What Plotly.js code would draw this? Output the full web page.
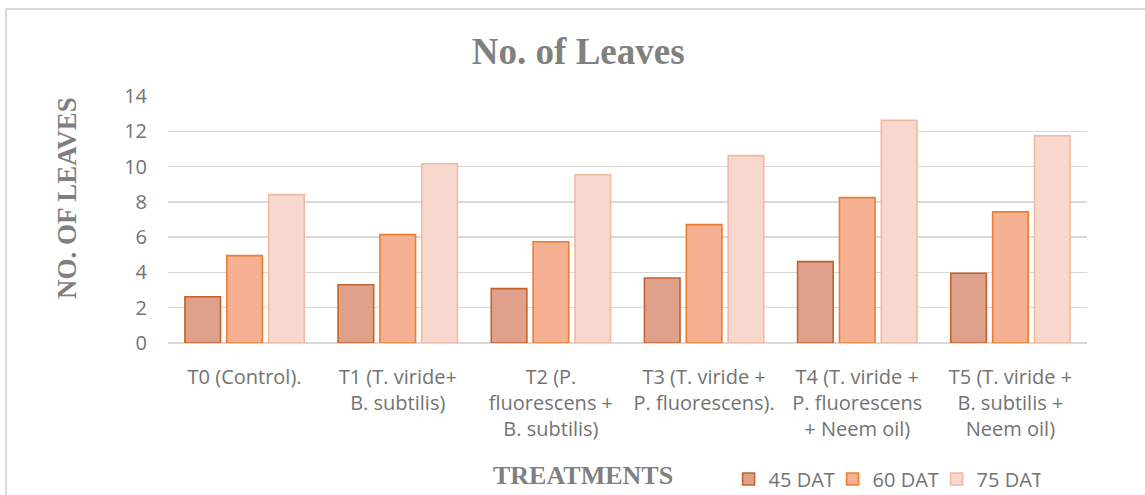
<!DOCTYPE html>
<html>
<head>
<meta charset="utf-8">
<script src="https://cdn.plot.ly/plotly-3.0.1.min.js"></script>
<style>
  html, body { margin: 0; padding: 0; background: #ffffff; }
  #frame { position: absolute; left: 5px; top: 8px; width: 1200px; height: 600px; border: 2px solid #d9d9d9; box-sizing: border-box; }
  #chart { position: absolute; left: 0; top: 0; width: 1145px; height: 495px; }
</style>
</head>
<body>
<div id="frame"></div>
<div id="chart"></div>
<script>
const categories = [
  "T0 (Control).",
  "T1 (T. viride+<br>B. subtilis)",
  "T2 (P.<br>fluorescens +<br>B. subtilis)",
  "T3 (T. viride +<br>P. fluorescens).",
  "T4 (T. viride +<br>P. fluorescens<br>+ Neem oil)",
  "T5 (T. viride +<br>B. subtilis +<br>Neem oil)"
];
const seriesNames = ["45 DAT", "60 DAT", "75 DAT"];
const dat45 = [2.62, 3.30, 3.08, 3.68, 4.61, 3.95];
const dat60 = [4.95, 6.14, 5.74, 6.71, 8.24, 7.43];
const dat75 = [8.41, 10.16, 9.54, 10.62, 12.62, 11.75];
const yTicks = [0, 2, 4, 6, 8, 10, 12, 14];

const fills = ["#dfa18b", "#f5b191", "#f8d8cd"];
const lines = ["#c4632b", "#ed7d31", "#f2b9a2"];
const values = [dat45, dat60, dat75];

const traces = values.map((v, i) => ({
  type: "bar",
  name: seriesNames[i],
  x: categories,
  y: v,
  marker: { color: fills[i], line: { color: lines[i], width: 1.6 } }
}));

const layout = {
  width: 1145,
  height: 495,
  margin: { l: 168, r: 58, t: 96, b: 152, pad: 0, autoexpand: false },
  paper_bgcolor: "rgba(0,0,0,0)",
  plot_bgcolor: "rgba(0,0,0,0)",
  barmode: "group",
  bargap: 0.18,
  bargroupgap: 0.15,
  title: {
    text: "<b>No. of Leaves</b>",
    font: { family: "Liberation Serif, Times New Roman, serif", size: 37, color: "#808080" },
    x: 0.505, xanchor: "center",
    y: 0.897, yanchor: "middle", yref: "container"
  },
  xaxis: {
    type: "category",
    tickangle: 0,
    showgrid: false,
    showline: false,
    zeroline: false,
    ticks: "",
    ticklabelstandoff: 20,
    tickfont: { family: "Open Sans, sans-serif", size: 20, color: "#737373" },
    automargin: false
  },
  yaxis: {
    range: [0, 14],
    tickvals: yTicks,
    ticktext: yTicks.map(String),
    showgrid: true,
    gridcolor: "#d9d9d9",
    gridwidth: 1.4,
    zeroline: true,
    zerolinecolor: "#d9d9d9",
    zerolinewidth: 1.4,
    showline: false,
    ticks: "",
    ticklabelstandoff: 20,
    tickfont: { family: "Open Sans, sans-serif", size: 20, color: "#737373" },
    automargin: false
  },
  showlegend: true,
  legend: {
    orientation: "h",
    x: 0.61, xanchor: "left",
    y: (343 - 479) / 247, yanchor: "middle",
    entrywidth: 59, entrywidthmode: "pixels",
    font: { family: "Open Sans, sans-serif", size: 20, color: "#737373" },
    bgcolor: "rgba(0,0,0,0)",
    itemclick: false
  },
  annotations: [{
    text: "<b>TREATMENTS</b>",
    xref: "paper", yref: "paper",
    x: (583 - 168) / 919, y: (343 - 475) / 247,
    xanchor: "center", yanchor: "middle",
    showarrow: false,
    font: { family: "Liberation Serif, Times New Roman, serif", size: 26, color: "#7f7f7f" }
  }, {
    text: "<b>NO. OF LEAVES</b>",
    xref: "paper", yref: "paper",
    x: (67 - 168) / 919, y: (343 - 198) / 247,
    xanchor: "center", yanchor: "middle",
    textangle: -90,
    showarrow: false,
    font: { family: "Liberation Serif, Times New Roman, serif", size: 27, color: "#7f7f7f" }
  }]
};

Plotly.newPlot("chart", traces, layout, { displayModeBar: false, staticPlot: true });
</script>
</body>
</html>
